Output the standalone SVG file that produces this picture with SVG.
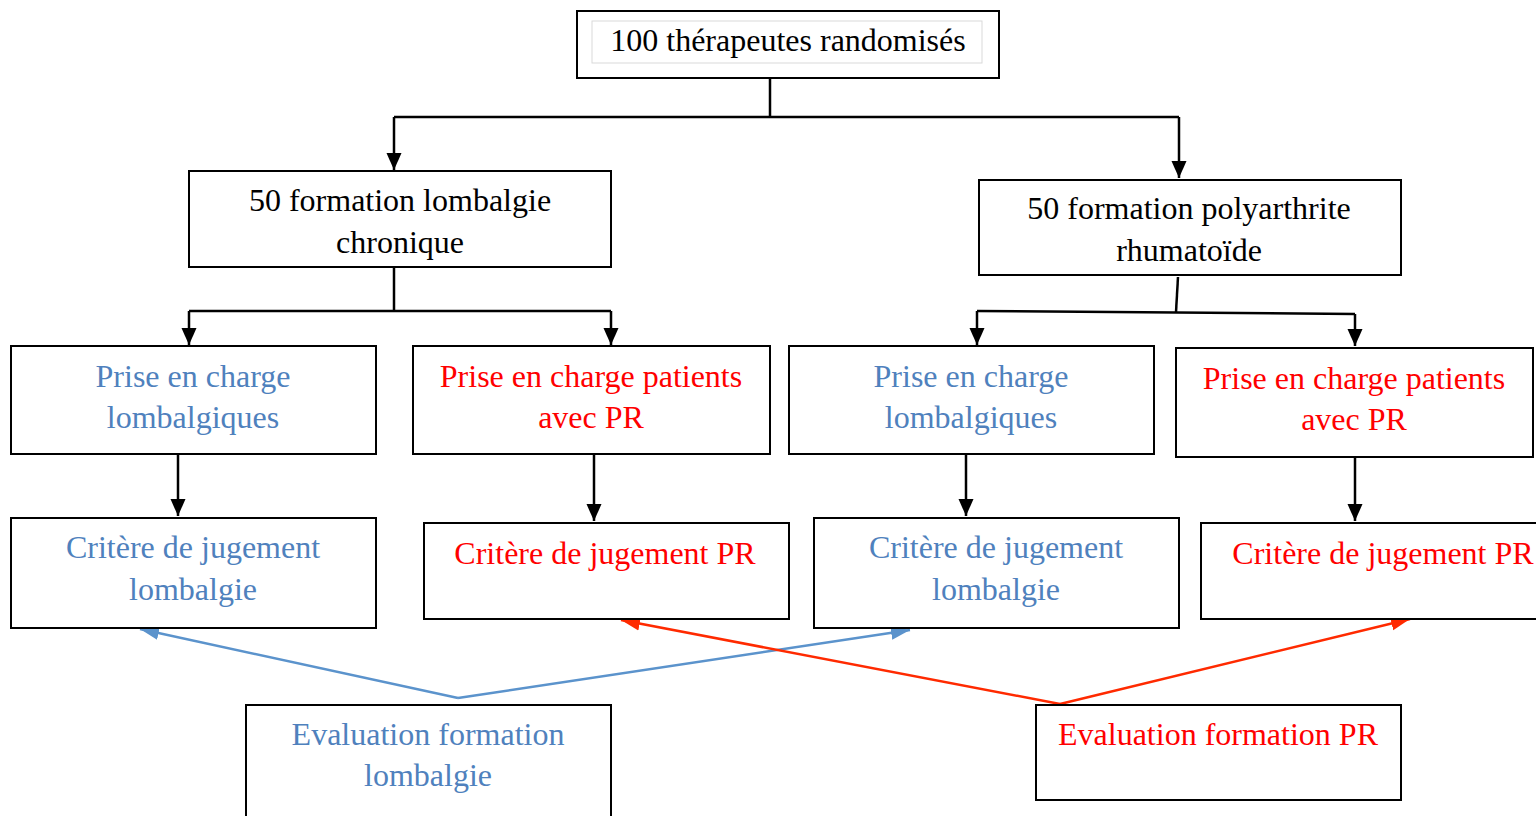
<svg xmlns="http://www.w3.org/2000/svg" width="1536" height="816" viewBox="0 0 1536 816">
  <style>
    .box { fill: #ffffff; stroke: #000000; stroke-width: 2; }
    .inner { fill: none; stroke: #d9d9d9; stroke-width: 1; }
    text { font-family: "Liberation Serif", "Times New Roman", serif; font-size: 32px; text-anchor: middle; }
    .k { fill: #000000; }
    .b { fill: #4f81bd; }
    .r { fill: #ff0000; }
    .link { fill: none; stroke: #000000; stroke-width: 2.5; }
    .blue { fill: none; stroke: #5b93cc; stroke-width: 2.5; }
    .red { fill: none; stroke: #ff2a00; stroke-width: 2.5; }
  </style>
  <defs>
    <marker id="ah" markerUnits="userSpaceOnUse" markerWidth="18" markerHeight="16" viewBox="0 0 18 16" refX="17" refY="8" orient="auto">
      <path d="M0,0.5 L17,8 L0,15.5 Z" fill="#000000"/>
    </marker>
    <marker id="ahBlue" markerUnits="userSpaceOnUse" markerWidth="20" markerHeight="16" viewBox="0 0 20 16" refX="19" refY="8" orient="auto">
      <path d="M0,1 L19,8 L0,15 Z" fill="#5b93cc"/>
    </marker>
    <marker id="ahRed" markerUnits="userSpaceOnUse" markerWidth="20" markerHeight="16" viewBox="0 0 20 16" refX="19" refY="8" orient="auto">
      <path d="M0,1 L19,8 L0,15 Z" fill="#ff2a00"/>
    </marker>
  </defs>

  <rect width="1536" height="816" fill="#ffffff"/>

  <!-- connectors -->
  <g id="connectors">
    <path class="link" d="M770,78 V117"/>
    <path class="link" d="M394,117 H1179"/>
    <path class="link" d="M394,117 V170" marker-end="url(#ah)"/>
    <path class="link" d="M1179,117 V178" marker-end="url(#ah)"/>

    <path class="link" d="M394,267 V311"/>
    <path class="link" d="M189,311 H611"/>
    <path class="link" d="M189,311 V345" marker-end="url(#ah)"/>
    <path class="link" d="M611,311 V345" marker-end="url(#ah)"/>

    <path class="link" d="M1178,277 L1176,312"/>
    <path class="link" d="M977,311 L1355,314"/>
    <path class="link" d="M977,311 V345" marker-end="url(#ah)"/>
    <path class="link" d="M1355,314 V346" marker-end="url(#ah)"/>

    <path class="link" d="M178,455 V516" marker-end="url(#ah)"/>
    <path class="link" d="M594,455 V521" marker-end="url(#ah)"/>
    <path class="link" d="M966,455 V516" marker-end="url(#ah)"/>
    <path class="link" d="M1355,458 V521" marker-end="url(#ah)"/>

    <path class="blue" d="M458,698 L140,629" marker-end="url(#ahBlue)"/>
    <path class="blue" d="M458,698 L910,630" marker-end="url(#ahBlue)"/>
    <path class="red" d="M1060,704 L621,620" marker-end="url(#ahRed)"/>
    <path class="red" d="M1060,704 L1410,619" marker-end="url(#ahRed)"/>
  </g>

  <g id="n-randomises">
    <rect class="box" x="577" y="11" width="422" height="67"/>
    <rect class="inner" x="592" y="21" width="390" height="42"/>
    <text class="k" x="788" y="51">100 thérapeutes randomisés</text>
  </g>

  <g id="n-formation-lombalgie">
    <rect class="box" x="189" y="171" width="422" height="96"/>
    <text class="k" x="400" y="211">50 formation lombalgie</text>
    <text class="k" x="400" y="253">chronique</text>
  </g>

  <g id="n-formation-pr">
    <rect class="box" x="979" y="180" width="422" height="95"/>
    <text class="k" x="1189" y="219">50 formation polyarthrite</text>
    <text class="k" x="1189" y="261">rhumatoïde</text>
  </g>

  <g id="n-pec-lomb-1">
    <rect class="box" x="11" y="346" width="365" height="108"/>
    <text class="b" x="193" y="387">Prise en charge</text>
    <text class="b" x="193" y="428">lombalgiques</text>
  </g>

  <g id="n-pec-pr-1">
    <rect class="box" x="413" y="346" width="357" height="108"/>
    <text class="r" x="591" y="387">Prise en charge patients</text>
    <text class="r" x="591" y="428">avec PR</text>
  </g>

  <g id="n-pec-lomb-2">
    <rect class="box" x="789" y="346" width="365" height="108"/>
    <text class="b" x="971" y="387">Prise en charge</text>
    <text class="b" x="971" y="428">lombalgiques</text>
  </g>

  <g id="n-pec-pr-2">
    <rect class="box" x="1176" y="348" width="357" height="109"/>
    <text class="r" x="1354" y="389">Prise en charge patients</text>
    <text class="r" x="1354" y="430">avec PR</text>
  </g>

  <g id="n-critere-lomb-1">
    <rect class="box" x="11" y="518" width="365" height="110"/>
    <text class="b" x="193" y="558">Critère de jugement</text>
    <text class="b" x="193" y="600">lombalgie</text>
  </g>

  <g id="n-critere-pr-1">
    <rect class="box" x="424" y="523" width="365" height="96"/>
    <text class="r" x="605" y="564">Critère de jugement PR</text>
  </g>

  <g id="n-critere-lomb-2">
    <rect class="box" x="814" y="518" width="365" height="110"/>
    <text class="b" x="996" y="558">Critère de jugement</text>
    <text class="b" x="996" y="600">lombalgie</text>
  </g>

  <g id="n-critere-pr-2">
    <rect class="box" x="1201" y="523" width="365" height="96"/>
    <text class="r" x="1383" y="564">Critère de jugement PR</text>
  </g>

  <g id="n-eval-lomb">
    <rect class="box" x="246" y="705" width="365" height="130"/>
    <text class="b" x="428" y="745">Evaluation formation</text>
    <text class="b" x="428" y="786">lombalgie</text>
  </g>

  <g id="n-eval-pr">
    <rect class="box" x="1036" y="705" width="365" height="95"/>
    <text class="r" x="1218" y="745">Evaluation formation PR</text>
  </g>
</svg>
